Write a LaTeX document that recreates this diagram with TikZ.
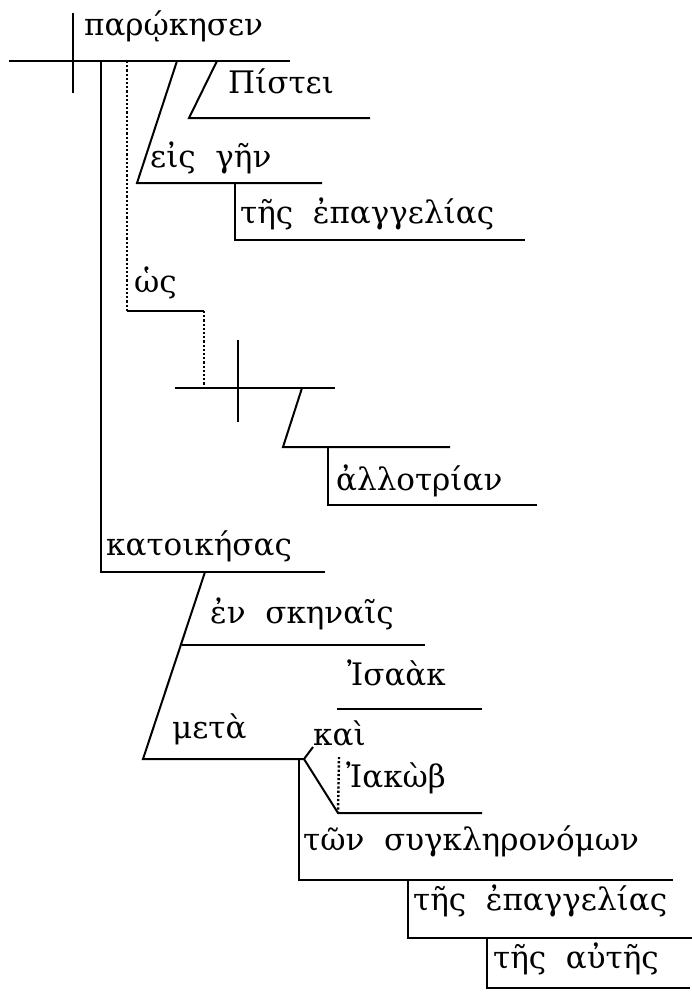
\documentclass[tikz,border=0pt]{standalone}
\usepackage{fontspec}
\setmainfont[WordSpace=2.0]{DejaVu Serif}
\usetikzlibrary{positioning,calc}
\definecolor{ink}{HTML}{000000}

\begin{document}
\begin{tikzpicture}[
      x=1pt, y=-1pt,
      word/.style={anchor=base west, inner sep=0pt, font=\fontsize{31pt}{34pt}\selectfont, text=ink},
      rule/.style={draw=ink, line width=2pt},
      dotrule/.style={draw=ink, line width=2.4pt, dash pattern=on 2.2pt off 2pt},
    ]
      \useasboundingbox (0,0) rectangle (692,998);

      % main clause
      \coordinate (mainL) at (9,61);
      \coordinate (mainR) at (290,61);
      \coordinate (divT) at (73,13);
      \coordinate (divB) at (73,93);
      \node[word] (verb) at (84,36) {παρῴκησεν};

      \coordinate (pisTop) at (217,61);
      \coordinate (pisL) at (189,118);
      \coordinate (pisR) at (370,118);
      \node[word] (pistei) at (228,93) {Πίστει};

      \coordinate (eisTop) at (177,61);
      \coordinate (eisL) at (137,183);
      \coordinate (eisR) at (322,183);
      \node[word] (eis) at (150,167) {εἰς γῆν};

      \coordinate (gen1T) at (235,183);
      \coordinate (gen1L) at (235,240);
      \coordinate (gen1R) at (525,240);
      \node[word] (gen1) at (240,223) {τῆς ἐπαγγελίας};

      % hos clause
      \coordinate (hosT) at (127,61);
      \coordinate (hosL) at (127,311);
      \coordinate (hosR) at (204,311);
      \coordinate (hosB) at (204,388);
      \node[word] (hos) at (134,292) {ὡς};

      \coordinate (subL) at (175,388);
      \coordinate (subR) at (335,388);
      \coordinate (sdivT) at (238,340);
      \coordinate (sdivB) at (238,422);
      \coordinate (allTop) at (302,388);
      \coordinate (allL) at (283,447);
      \coordinate (allR) at (450,447);
      \coordinate (allT) at (328,447);
      \coordinate (allB) at (328,505);
      \coordinate (allE) at (537,505);
      \node[word] (allo) at (336,490) {ἀλλοτρίαν};

      % participle
      \coordinate (partT) at (101,61);
      \coordinate (partL) at (101,572);
      \coordinate (partR) at (325,572);
      \node[word] (part) at (106,555) {κατοικήσας};

      \coordinate (metTop) at (205,572);
      \coordinate (metL) at (143,759);
      \coordinate (join) at (304,759);
      \coordinate (enL) at (182,645);
      \coordinate (enR) at (425,645);
      \node[word] (en) at (210,623) {ἐν σκηναῖς};
      \node[word] (meta) at (172,738) {μετὰ};

      % compound
      \coordinate (kaiStub) at (313,747);
      \coordinate (isaL) at (337,709);
      \coordinate (isaR) at (482,709);
      \coordinate (iakL) at (338,813);
      \coordinate (iakR) at (482,813);
      \coordinate (kaiT) at (339,757);
      \node[word] (isaak) at (347,685) {Ἰσαὰκ};
      \node[word] (kai) at (313,745) {καὶ};
      \node[word] (iakob) at (346,787) {Ἰακὼβ};

      \coordinate (synT) at (299,759);
      \coordinate (synL) at (299,880);
      \coordinate (synR) at (673,880);
      \node[word] (syn) at (303,850) {τῶν συγκληρονόμων};

      \coordinate (gen2T) at (408,880);
      \coordinate (gen2L) at (408,938);
      \coordinate (gen2R) at (692,938);
      \node[word] (gen2) at (413,910) {τῆς ἐπαγγελίας};

      \coordinate (autT) at (487,938);
      \coordinate (autL) at (487,988);
      \coordinate (autR) at (690,988);
      \node[word] (aut) at (493,968) {τῆς αὐτῆς};

      \draw[rule] (mainL) -- (mainR);
      \draw[rule] (divT) -- (divB);
      \draw[rule] (pisTop) -- (pisL) -- (pisR);
      \draw[rule] (eisTop) -- (eisL) -- (eisR);
      \draw[rule] (gen1T) -- (gen1L) -- (gen1R);

      \draw[dotrule] (hosT) -- (hosL);
      \draw[rule] (hosL) -- (hosR);
      \draw[dotrule] (hosR) -- (hosB);
      \draw[rule] (subL) -- (subR);
      \draw[rule] (sdivT) -- (sdivB);
      \draw[rule] (allTop) -- (allL) -- (allR);
      \draw[rule] (allT) -- (allB) -- (allE);

      \draw[rule] (partT) -- (partL) -- (partR);
      \draw[rule] (metTop) -- (metL) -- (join);
      \draw[rule] (enL) -- (enR);

      \draw[rule] (join) -- (kaiStub);
      \draw[rule] (isaL) -- (isaR);
      \draw[rule] (join) -- (iakL) -- (iakR);
      \draw[dotrule] (kaiT) -- (iakL);

      \draw[rule] (synT) -- (synL) -- (synR);
      \draw[rule] (gen2T) -- (gen2L) -- (gen2R);
      \draw[rule] (autT) -- (autL) -- (autR);
    \end{tikzpicture}
\end{document}
